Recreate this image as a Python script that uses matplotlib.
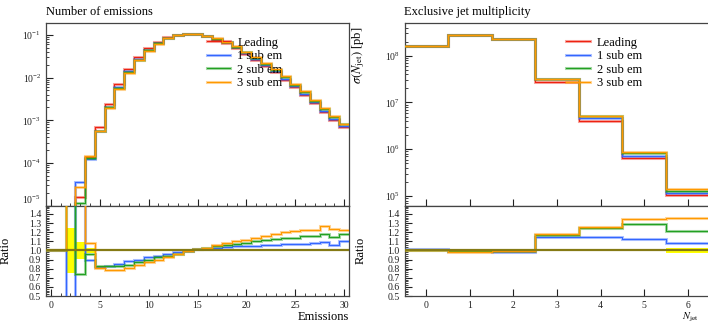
import numpy as np
import matplotlib
matplotlib.use("Agg")
import matplotlib.pyplot as plt
from matplotlib.ticker import MultipleLocator, FixedLocator
from matplotlib.legend_handler import HandlerTuple

plt.rcParams["font.family"] = ["Liberation Serif", "DejaVu Serif"]
plt.rcParams["mathtext.fontset"] = "stix"

# ---- data: number of emissions (bins 0..30) ----
em_edges = np.arange(-0.5, 31.0, 1.0)
em_leading = [np.nan, np.nan, 5e-6, 1.6e-5, 1.37e-4, 6.8e-4, 2.45e-3, 6.9e-3, 1.6e-2, 3.0e-2,
              4.9e-2, 6.95e-2, 8.95e-2, 1.02e-1, 1.07e-1, 1.04e-1, 9.2e-2, 7.8e-2, 6.4e-2, 5.0e-2,
              3.6e-2, 2.6e-2, 1.85e-2, 1.33e-2, 8.9e-3, 6.0e-3, 3.9e-3, 2.5e-3, 1.55e-3, 1.02e-3,
              6.8e-4]
em_ratio_1sub = [1, 1, 0.2, 2.2, 0.89, 0.82, 0.83, 0.855, 0.88, 0.90, 0.925, 0.94, 0.965, 0.98,
                 0.99, 1.01, 1.02, 1.03, 1.04, 1.045, 1.05, 1.05, 1.06, 1.06, 1.065, 1.065, 1.07,
                 1.08, 1.087, 1.06, 1.10]
em_ratio_2sub = [1, 1, 1.8, 0.74, 0.96, 0.83, 0.83, 0.83, 0.845, 0.87, 0.90, 0.925, 0.94, 0.965,
                 0.99, 1.01, 1.025, 1.045, 1.06, 1.07, 1.08, 1.10, 1.11, 1.125, 1.136, 1.14, 1.16,
                 1.16, 1.18, 1.15, 1.18]
em_ratio_3sub = [1, 1, 1.7, 1.7, 1.08, 0.81, 0.78, 0.79, 0.81, 0.845, 0.87, 0.90, 0.925, 0.955,
                 0.99, 1.01, 1.03, 1.06, 1.08, 1.10, 1.116, 1.14, 1.16, 1.18, 1.20, 1.21, 1.225,
                 1.225, 1.27, 1.236, 1.225]
em_relerr = [0, 0, 0.25, 0.09, 0.03, 0.012, 0.006, 0.004, 0.003, 0.003, 0.002, 0.002, 0.002, 0.002,
             0.002, 0.002, 0.002, 0.002, 0.003, 0.003, 0.003, 0.003, 0.004, 0.004, 0.005, 0.005,
             0.006, 0.007, 0.008, 0.009, 0.01]

# ---- data: exclusive jet multiplicity (0..6) ----
nj_edges = np.arange(-0.5, 7.0, 1.0)
nj_leading = [1.61e8, 2.81e8, 2.31e8, 2.74e7, 4.05e6, 6.4e5, 1.07e5]
nj_ratio_1sub = [1.012, 0.995, 0.985, 1.145, 1.145, 1.13, 1.085]
nj_ratio_2sub = [1.0, 0.99, 0.99, 1.165, 1.245, 1.285, 1.21]
nj_ratio_3sub = [1.0, 0.983, 0.99, 1.175, 1.26, 1.34, 1.35]
nj_relerr = [0.002, 0.002, 0.002, 0.003, 0.004, 0.008, 0.03]

labels = ["Leading", "1 sub em", "2 sub em", "3 sub em"]
colors = ["#ee2211", "#3366ff", "#22a022", "#ff9900"]
ref_color = "#857a14"


def steps(ax, edges, vals, color, zorder=2):
    y = np.append(vals, vals[-1])
    ax.plot(edges, y, drawstyle="steps-post", color=color, lw=2.2, alpha=0.4,
            solid_joinstyle="miter", zorder=zorder)
    ax.plot(edges, y, drawstyle="steps-post", color=color, lw=0.8, zorder=zorder + 0.1)


def style_axes(ax):
    ax.tick_params(which="both", direction="in", labelsize=7, colors="#222222")
    ax.tick_params(which="major", length=5, width=0.8)
    ax.tick_params(which="minor", length=2.5, width=0.6)
    for s in ax.spines.values():
        s.set_color("#444444")
        s.set_linewidth(0.9)


def draw_panel(ax_main, ax_rat, edges, leading, ratios, relerr):
    leading = np.array(leading, dtype=float)
    series = [np.ones_like(leading)] + [np.array(r, dtype=float) for r in ratios]
    handles = []
    for i, (r, c) in enumerate(zip(series, colors)):
        steps(ax_main, edges, leading * r, c, zorder=2 + i)
        thick = plt.Line2D([], [], color=c, lw=2.2, alpha=0.4)
        thin = plt.Line2D([], [], color=c, lw=0.8)
        handles.append((thick, thin))
        if i > 0:
            steps(ax_rat, edges, r, c, zorder=3 + i)
    err = np.array(relerr, dtype=float)
    ax_rat.fill_between(edges, np.append(1 - err, 1 - err[-1]), np.append(1 + err, 1 + err[-1]),
                        step="post", color="#ffff00", lw=0, zorder=1)
    ax_rat.plot(edges, np.ones_like(edges), color=ref_color, lw=1.6, zorder=10)
    ax_main.set_yscale("log")
    ax_rat.set_ylim(0.5, 1.49)
    ticks = np.round(np.arange(0.5, 1.45, 0.1), 1)
    ax_rat.yaxis.set_major_locator(FixedLocator(ticks))
    ax_rat.set_yticklabels([f"{v:.1f}" for v in ticks])
    ax_rat.yaxis.set_minor_locator(MultipleLocator(0.02))
    ax_rat.set_ylabel("Ratio", fontsize=9)
    ax_main.tick_params(labelbottom=False)
    style_axes(ax_main)
    style_axes(ax_rat)
    ax_main.set_xlim(edges[0], edges[-1])
    ax_main.legend(handles, labels, handler_map={tuple: HandlerTuple(ndivide=1)},
                   frameon=False, fontsize=9, handlelength=1.9, handletextpad=0.55,
                   labelspacing=0.12, borderpad=0, borderaxespad=0,
                   loc="upper left", bbox_to_anchor=(0.53, 0.925))


fig = plt.figure(figsize=(7.08, 3.23), dpi=100)

# left panel
axL = fig.add_axes([46 / 708, 1 - 205.7 / 323, 303 / 708, 182.7 / 323])
axLr = fig.add_axes([46 / 708, 1 - 296 / 323, 303 / 708, 90.3 / 323], sharex=axL)
draw_panel(axL, axLr, em_edges, em_leading,
           [em_ratio_1sub, em_ratio_2sub, em_ratio_3sub], em_relerr)
axL.set_ylim(1e-5, 1.9e-1)
axLr.xaxis.set_major_locator(MultipleLocator(5))
axLr.xaxis.set_minor_locator(MultipleLocator(1))
axL.set_title("Number of emissions", loc="left", fontsize=9, pad=6)
axLr.set_xlabel("Emissions", fontsize=9, loc="right")
axLr.xaxis.set_label_coords(1.0, -0.17)
axLr.yaxis.set_label_coords(-0.112, 0.5)

# right panel
axR = fig.add_axes([404.5 / 708, 1 - 205.7 / 323, 305 / 708, 182.7 / 323])
axRr = fig.add_axes([404.5 / 708, 1 - 296 / 323, 305 / 708, 90.3 / 323], sharex=axR)
draw_panel(axR, axRr, nj_edges, nj_leading,
           [nj_ratio_1sub, nj_ratio_2sub, nj_ratio_3sub], nj_relerr)
axR.set_ylim(6.2e4, 5e8)
axRr.xaxis.set_major_locator(MultipleLocator(1))
axR.set_title("Exclusive jet multiplicity", loc="left", fontsize=9, pad=6)
axR.set_ylabel(r"$\sigma(N_\mathrm{jet})$ [pb]", fontsize=9, loc="top")
axR.yaxis.set_label_coords(-0.123, 0.98)
axRr.set_xlabel(r"$N_\mathrm{jet}$", fontsize=7.5, loc="right")
axRr.xaxis.set_label_coords(0.965, -0.16)
axRr.yaxis.set_label_coords(-0.123, 0.5)

# lift only the 10^-5 label so it clears the 1.4 of the ratio axis
fig.canvas.draw()
for lab in axL.get_yticklabels():
    if np.isclose(lab.get_position()[1], 1e-5):
        lab.set_verticalalignment("bottom")

fig.savefig("out.png", dpi=100)
